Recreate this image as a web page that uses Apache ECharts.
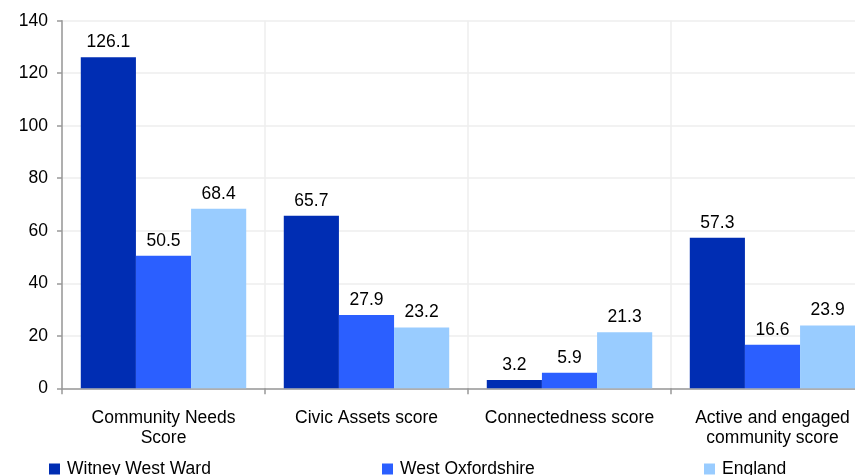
<!DOCTYPE html>
<html><head><meta charset="utf-8">
<script src="https://cdn.jsdelivr.net/npm/echarts@6/dist/echarts.min.js"></script>
<style>html,body{margin:0;padding:0;background:#fff;overflow:hidden}#c{width:874px;height:475px}</style>
</head><body><div id="c"></div>
<script>
const categories = ["Community Needs\nScore", "Civic Assets score", "Connectedness score", "Active and engaged\ncommunity score"];
const seriesNames = ["Witney West Ward", "West Oxfordshire", "England"];
const witneyWest = [126.1, 65.7, 3.2, 57.3];
const westOxon = [50.5, 27.9, 5.9, 16.6];
const england = [68.4, 23.2, 21.3, 23.9];
const colors = ["#002db3", "#2b5fff", "#99ccff"];
const font = "Liberation Sans, Arial, sans-serif";
const fs = 17.5;

const chart = echarts.init(document.getElementById('c'), null, {renderer: 'canvas'});
const data = [witneyWest, westOxon, england];
const legendLefts = [49, 382, 704];
chart.setOption({
  animation: false,
  grid: {left: 62, right: 0, top: 20.7, bottom: 86.7, containLabel: false, outerBoundsMode: 'none'},
  legend: seriesNames.map((n, i) => ({
    data: [n], left: legendLefts[i], top: 460, padding: 0, itemWidth: 11, itemHeight: 11, icon: 'rect', itemGap: 8,
    textStyle: {fontFamily: font, fontSize: fs, color: '#000', padding: [0, 0, 0, 2]}
  })),
  xAxis: {
    type: 'category', data: categories,
    axisLine: {lineStyle: {color: '#999', width: 1.5}},
    axisTick: {show: true, length: 6, lineStyle: {color: '#999', width: 1.5}},
    axisLabel: {fontFamily: font, fontSize: fs, color: '#000', margin: 20, lineHeight: 20, interval: 0},
    splitLine: {show: true, lineStyle: {color: '#eeeeee', width: 1.5}}
  },
  yAxis: {
    type: 'value', min: 0, max: 140, interval: 20,
    axisLine: {show: true, lineStyle: {color: '#999', width: 1.5}},
    axisTick: {show: true, length: 5, lineStyle: {color: '#999', width: 1.5}},
    axisLabel: {fontFamily: font, fontSize: fs, color: '#000', margin: 14},
    splitLine: {show: true, lineStyle: {color: '#eeeeee', width: 1.5}}
  },
  series: seriesNames.map((n, i) => ({
    name: n, type: 'bar', data: data[i], barGap: '0%', barCategoryGap: '18.5%',
    itemStyle: {color: colors[i]},
    label: {show: true, position: 'top', distance: 6, fontFamily: font, fontSize: fs, color: '#000',
      formatter: p => p.value.toFixed(1)}
  }))
});
</script></body></html>
